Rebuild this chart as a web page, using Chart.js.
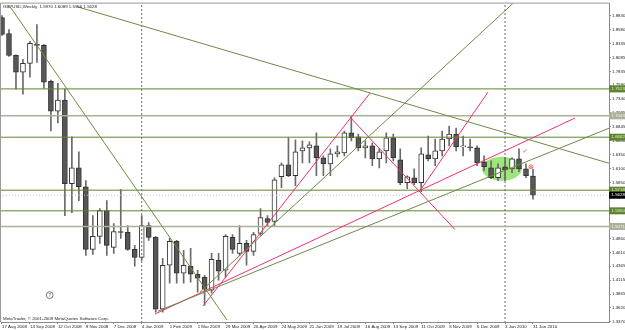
<!DOCTYPE html>
<html><head><meta charset="utf-8">
<script src="https://cdn.jsdelivr.net/npm/chart.js@4.4.0/dist/chart.umd.min.js"></script>
<style>html,body{margin:0;padding:0;background:#fff;overflow:hidden}#wrap{width:625px;height:330px}</style>
</head><body><div id="wrap"><canvas id="c" width="625" height="330"></canvas></div>
<script>
// ---- data ----
const dateLabels = ['17 Aug 2008','14 Sep 2008','12 Oct 2008','9 Nov 2008','7 Dec 2008','4 Jan 2009','1 Feb 2009','1 Mar 2009','29 Mar 2009','26 Apr 2009','24 May 2009','21 Jun 2009','19 Jul 2009','16 Aug 2009','13 Sep 2009','11 Oct 2009','8 Nov 2009','6 Dec 2009','3 Jan 2010','31 Jan 2010'];
const dateLabelBars = [0,4,8,12,16,20,24,28,32,36,40,44,48,52,56,60,64,68,72,76];
const opens  = [1.8794,1.8511,1.8121,1.7819,1.7979,1.8316,1.8298,1.7660,1.7128,1.7323,1.5833,1.6117,1.5780,1.4663,1.4894,1.5355,1.4699,1.4982,1.4965,1.4663,1.4521,1.5089,1.4876,1.3599,1.4380,1.4805,1.4238,1.4362,1.4220,1.4167,1.3936,1.4468,1.4291,1.4876,1.4592,1.4770,1.4628,1.4947,1.5213,1.5160,1.5958,1.6170,1.5975,1.6419,1.6472,1.6507,1.6294,1.6188,1.6365,1.6383,1.6738,1.6667,1.6472,1.6507,1.6277,1.6419,1.6649,1.6259,1.5851,1.5940,1.5851,1.6348,1.6277,1.6419,1.6631,1.6720,1.6489,1.6489,1.6472,1.6224,1.6117,1.5940,1.6135,1.6099,1.6277,1.6099,1.5970];
const highs  = [1.8830,1.8582,1.8130,1.8050,1.8369,1.8670,1.8316,1.7680,1.7624,1.7518,1.6667,1.6401,1.5887,1.5266,1.5390,1.5532,1.5124,1.5727,1.5089,1.4734,1.5266,1.5142,1.4890,1.4504,1.4858,1.4823,1.4646,1.4681,1.4291,1.4202,1.4592,1.4592,1.4929,1.4929,1.5089,1.4823,1.4965,1.5390,1.5266,1.5940,1.6206,1.6649,1.6614,1.6596,1.6578,1.6738,1.6330,1.6454,1.6507,1.6773,1.7039,1.6720,1.6596,1.6560,1.6454,1.6738,1.6720,1.6454,1.5975,1.6099,1.6472,1.6684,1.6631,1.6773,1.6862,1.6826,1.6684,1.6631,1.6507,1.6330,1.6241,1.6188,1.6294,1.6294,1.6454,1.6188,1.6089];
const lows   = [1.8475,1.8103,1.7518,1.7429,1.7731,1.7997,1.7535,1.6773,1.6915,1.5266,1.5319,1.5532,1.4557,1.4575,1.4770,1.4557,1.4592,1.4858,1.4646,1.4362,1.4468,1.4823,1.3546,1.3546,1.4060,1.4060,1.4060,1.4078,1.3901,1.3670,1.3883,1.4114,1.4167,1.4592,1.4557,1.4380,1.4557,1.4911,1.5071,1.5071,1.5762,1.5958,1.5798,1.6206,1.6206,1.5975,1.5975,1.5975,1.6312,1.6330,1.6596,1.6419,1.6294,1.6153,1.6117,1.6206,1.6241,1.5816,1.5745,1.5816,1.5692,1.6241,1.6153,1.6330,1.6507,1.6419,1.6330,1.6419,1.6153,1.6064,1.5922,1.5887,1.5887,1.6028,1.6046,1.5940,1.5556];
const closes = [1.8493,1.8121,1.7819,1.7979,1.8333,1.8298,1.7642,1.7128,1.7323,1.5833,1.6117,1.5780,1.4663,1.4894,1.5355,1.4734,1.4982,1.4965,1.4663,1.4521,1.5089,1.4876,1.3599,1.4380,1.4805,1.4238,1.4380,1.4220,1.4149,1.3954,1.4486,1.4273,1.4894,1.4663,1.4770,1.4628,1.4929,1.5231,1.5142,1.5904,1.6170,1.5975,1.6401,1.6472,1.6525,1.6294,1.6188,1.6365,1.6401,1.6738,1.6649,1.6472,1.6507,1.6277,1.6401,1.6649,1.6294,1.5851,1.5958,1.5851,1.6365,1.6277,1.6419,1.6631,1.6720,1.6489,1.6507,1.6472,1.6206,1.6135,1.5940,1.6117,1.6082,1.6277,1.6099,1.5975,1.5628];
const priceTicks = [1.8830,1.8580,1.8335,1.8085,1.7835,1.7590,1.7340,1.7095,1.6845,1.6600,1.6350,1.6100,1.5850,1.5605,1.5355,1.5110,1.4860,1.4610,1.4365,1.4115,1.3865,1.3620,1.3370];
const levelsDark  = [1.7523,1.6662,1.5718,1.5350];
const levelsLight = [1.7043,1.5071];
const lastPrice = 1.5628;
const yearSeparators = [20,72];
// trendlines: [bar1, price1, bar2, price2]
const oliveLines = [[1.15,1.8989,32.20,1.3404],[10.73,1.8989,87.16,1.6188],[28.34,1.3901,77.72,1.9574],[22.33,1.3564,87.30,1.6844]];
const pinkLines  = [[28.77,1.3653,52.67,1.7447],[21.90,1.3511,82.01,1.7004],[49.81,1.7021,64.83,1.5018],[59.83,1.5709,69.56,1.7465]];
const ellipseCenter = [71.56,1.6099];
const ellipseRadius = [2.86,0.0213];
const checkMark = [74.85,1.6401];
const crossMark = [75.71,1.6135];
const infoMark = [6.83,1.3848];
const headerText = 'GBPUSD,Weekly  1.5970 1.6089 1.5556 1.5628';
const copyrightText = 'MetaTrader, \u00A9 2001-2009 MetaQuotes Software Corp.';

// ---- styles ----
const FONT = 'Liberation Sans, Arial, sans-serif';
const OLIVE = '#6e8a45', PINK = '#f2306c', LVL_DARK = '#5f852c', LVL_LIGHT = '#a9b19a';
const xMin = -0.143, xMax = 86.88, yMin = 1.33689, yMax = 1.90425;

const bars = opens.map((_, i) => i);
const datasets = [];
oliveLines.forEach(l => datasets.push({type:'line', data:[{x:l[0],y:l[1]},{x:l[2],y:l[3]}], borderColor:OLIVE, borderWidth:1, pointRadius:0, order:1}));
pinkLines.forEach(l => datasets.push({type:'line', data:[{x:l[0],y:l[1]},{x:l[2],y:l[3]}], borderColor:PINK, borderWidth:1, pointRadius:0, order:1}));
levelsDark.forEach(p => datasets.push({type:'line', data:[{x:-5,y:p},{x:95,y:p}], borderColor:LVL_DARK, borderWidth:1, pointRadius:0, order:2}));
levelsLight.forEach(p => datasets.push({type:'line', data:[{x:-5,y:p},{x:95,y:p}], borderColor:LVL_LIGHT, borderWidth:1.5, pointRadius:0, order:2}));
datasets.push({type:'line', data:[{x:-5,y:lastPrice},{x:95,y:lastPrice}], borderColor:'#c0c0c0', borderWidth:1, borderDash:[1,2], pointRadius:0, order:3});
yearSeparators.forEach(b => datasets.push({type:'line', data:[{x:b,y:1.0},{x:b,y:2.2}], borderColor:'#666', borderWidth:1, borderDash:[2,2], pointRadius:0, order:3}));
datasets.push({type:'bar', data: bars.map(i => ({x:i, y:[opens[i], closes[i]]})),
  backgroundColor: bars.map(i => closes[i] < opens[i] ? '#575757' : '#ffffff'),
  borderColor:'#333', borderWidth:1, borderSkipped:false, barThickness:5, grouped:false, order:5});
datasets.push({type:'bar', data: bars.map(i => ({x:i, y:[lows[i], highs[i]]})),
  backgroundColor:'#6a6a6a', barThickness:1, grouped:false, order:6});

const overlay = {
  id:'overlay',
  beforeDatasetsDraw(chart){
    const {ctx, scales:{x, y}, chartArea:a} = chart;
    ctx.save();
    ctx.beginPath(); ctx.rect(a.left, a.top, a.right-a.left, a.bottom-a.top); ctx.clip();
    const cx = x.getPixelForValue(ellipseCenter[0]), cy = y.getPixelForValue(ellipseCenter[1]);
    const rx = Math.abs(x.getPixelForValue(ellipseCenter[0]+ellipseRadius[0]) - cx);
    const ry = Math.abs(y.getPixelForValue(ellipseCenter[1]+ellipseRadius[1]) - cy);
    ctx.beginPath(); ctx.ellipse(cx, cy, rx, ry, 0, 0, Math.PI*2);
    ctx.fillStyle = '#9de57c'; ctx.fill();
    ctx.restore();
  },
  afterDraw(chart){
    const {ctx, scales:{x, y}, chartArea:a} = chart;
    ctx.save();
    ctx.strokeStyle = '#9a9a9a'; ctx.lineWidth = 1;
    ctx.beginPath(); ctx.moveTo(a.left-0.5, a.bottom); ctx.lineTo(a.left-0.5, a.top-0.5); ctx.lineTo(a.right, a.top-0.5); ctx.stroke();
    ctx.fillStyle = '#222'; ctx.font = '4.4px ' + FONT; ctx.textBaseline = 'middle'; ctx.textAlign = 'left';
    ctx.fillText(headerText, a.left + 2, a.top + 3);
    ctx.fillText(copyrightText, a.left + 2, a.bottom - 3);
    const ix = x.getPixelForValue(infoMark[0]), iy = y.getPixelForValue(infoMark[1]);
    ctx.strokeStyle = '#777'; ctx.beginPath(); ctx.arc(ix, iy, 3.4, 0, Math.PI*2); ctx.stroke();
    ctx.fillStyle = '#555'; ctx.textAlign = 'center'; ctx.font = '4.5px ' + FONT; ctx.fillText('?', ix, iy + 0.3);
    ctx.fillStyle = '#f0303a'; ctx.font = '6px DejaVu Sans';
    ctx.fillText('\u2713', x.getPixelForValue(checkMark[0]), y.getPixelForValue(checkMark[1]));
    const mx = x.getPixelForValue(crossMark[0]), my = y.getPixelForValue(crossMark[1]);
    ctx.strokeStyle = '#f07070'; ctx.beginPath(); ctx.arc(mx, my, 2, 0, Math.PI*2); ctx.stroke();
    ctx.beginPath(); ctx.moveTo(mx-1.2,my-1.2); ctx.lineTo(mx+1.2,my+1.2); ctx.moveTo(mx+1.2,my-1.2); ctx.lineTo(mx-1.2,my+1.2); ctx.stroke();
    ctx.font = '4.4px ' + FONT; ctx.textAlign = 'left';
    const box = (p, bg, fg) => {
      const py = y.getPixelForValue(p);
      ctx.fillStyle = bg; ctx.fillRect(a.right, py - 3.5, 16, 7);
      ctx.fillStyle = fg; ctx.fillText(p.toFixed(4), a.right + 2.5, py);
    };
    levelsDark.forEach(p => box(p, LVL_DARK, '#e4ecd8'));
    levelsLight.forEach(p => box(p, LVL_LIGHT, '#f4f4ee'));
    box(lastPrice, '#000', '#fff');
    ctx.restore();
  }
};

new Chart(document.getElementById('c'), {
  type:'bar',
  data:{datasets},
  options:{
    responsive:false, animation:false, devicePixelRatio:1,
    layout:{padding:{top:2, left:1, right:0, bottom:0}},
    plugins:{legend:{display:false}, tooltip:{enabled:false}},
    scales:{
      x:{type:'linear', min:xMin, max:xMax, offset:false,
        afterBuildTicks: s => { s.ticks = dateLabelBars.map(v => ({value:v})); },
        afterFit: s => { s.height = 8; },
        ticks:{autoSkip:false, maxRotation:0, minRotation:0, align:'start', padding:0, color:'#222',
          font:{size:4.4, family:FONT}, callback:(v, i) => dateLabels[i]},
        grid:{display:true, drawOnChartArea:false, drawTicks:true, tickLength:2, color:'#888', offset:false},
        border:{display:true, color:'#8a8a8a'}},
      y:{type:'linear', position:'right', min:yMin, max:yMax,
        afterBuildTicks: s => { s.ticks = priceTicks.map(v => ({value:v})); },
        afterFit: s => { s.width = 16; },
        ticks:{padding:1, color:'#222', font:{size:4.4, family:FONT}, callback: v => v.toFixed(4)},
        grid:{display:true, drawOnChartArea:false, drawTicks:true, tickLength:2, color:'#888'},
        border:{display:true, color:'#8a8a8a'}}
    }
  },
  plugins:[overlay]
});
</script></body></html>
